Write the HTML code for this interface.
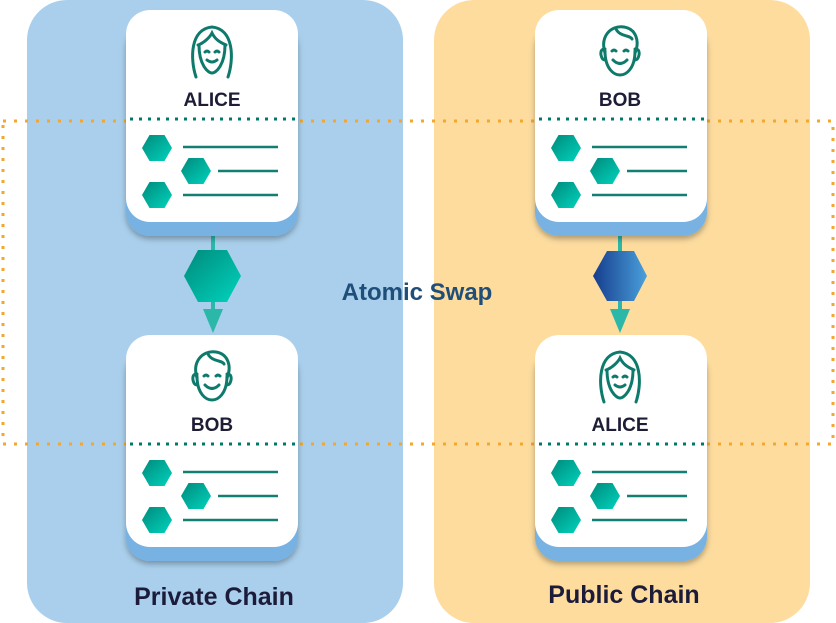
<!DOCTYPE html>
<html><head><meta charset="utf-8"><style>
body{margin:0;width:836px;height:623px;background:#fff;position:relative;overflow:hidden;font-family:"Liberation Sans",sans-serif}
</style></head><body>
<svg width="836" height="623" viewBox="0 0 836 623" xmlns="http://www.w3.org/2000/svg" style="position:absolute;left:0;top:0">
<defs>
<linearGradient id="tg" x1="0" y1="0" x2="1" y2="1"><stop offset="0" stop-color="#00897b"/><stop offset="1" stop-color="#00d4bd"/></linearGradient>
<linearGradient id="bg" x1="0" y1="0" x2="1" y2="0"><stop offset="0" stop-color="#163d8c"/><stop offset="1" stop-color="#4aa0dc"/></linearGradient>
<filter id="sh" x="-20%" y="-20%" width="140%" height="140%"><feDropShadow dx="0" dy="3" stdDeviation="3" flood-color="#000" flood-opacity="0.3"/></filter>
<g id="hs"><polygon points="-15,0 -7.5,-13 7.5,-13 15,0 7.5,13 -7.5,13" fill="url(#tg)"/></g>
<g id="card">
<rect x="0" y="12" width="172" height="214" rx="24" fill="#78b2e2" filter="url(#sh)"/>
<rect x="0" y="0" width="172" height="212" rx="24" fill="#fff"/>
<line x1="4" y1="109" x2="170" y2="109" stroke="#00796b" stroke-width="3" stroke-dasharray="3,6"/>
<use href="#hs" x="31" y="138"/><use href="#hs" x="70" y="161"/><use href="#hs" x="31" y="185"/>
<line x1="57" y1="137" x2="152" y2="137" stroke="#137f72" stroke-width="2.5"/>
<line x1="92" y1="161" x2="152" y2="161" stroke="#137f72" stroke-width="2.5"/>
<line x1="57" y1="185" x2="152" y2="185" stroke="#137f72" stroke-width="2.5"/>
</g>
<g id="girl" fill="none" stroke="#0e7a6c" stroke-width="3" stroke-linecap="round">
<path d="M-16,28 C-22,10 -22,-20 0,-22 C22,-20 22,10 16,28"/>
<path d="M-13,-4 C-13,16 -4,24 0,24 C4,24 13,16 13,-4"/>
<path d="M-14,-4 C-8,-6 -2,-12 0,-16 C4,-8 10,-6 14,-4"/>
<path d="M-7,3 q2,-2 4,0 M3,3 q2,-2 4,0 M-5,11 q5,4 10,0"/>
</g>
<g id="boy" fill="none" stroke="#0e7a6c" stroke-width="3" stroke-linecap="round">
<path d="M-15,2 C-15,20 -6,26 0,26 C6,26 15,20 15,2"/>
<path d="M-15,4 C-20,-12 -10,-24 4,-22 C16,-20 20,-8 15,4 M-4,-20 C0,-12 10,-14 12,-10"/>
<path d="M-15,0 q-5,0 -4,6 q1,5 4,5 M15,0 q5,0 4,6 q-1,5 -4,5"/>
<path d="M-8,2 q2,-2 4,0 M4,2 q2,-2 4,0 M-7,11 q7,7 14,0"/>
</g>
</defs>
<rect x="27" y="0" width="376" height="623" rx="40" fill="#a9cfec"/>
<rect x="434" y="0" width="376" height="623" rx="40" fill="#fddc9e"/>
<rect x="3" y="121" width="830" height="323" fill="none" stroke="#f3a72c" stroke-width="3" stroke-dasharray="3,8"/>
<line x1="213" y1="230" x2="213" y2="312" stroke="#2bb8a8" stroke-width="4"/>
<polygon points="203,309 223,309 213,333" fill="#2bb8a8"/>
<polygon points="184,276 198,250 227,250 241,276 227,302 198,302" fill="url(#tg)"/>
<line x1="620" y1="230" x2="620" y2="312" stroke="#2bb8a8" stroke-width="4"/>
<polygon points="610,309 630,309 620,333" fill="#2bb8a8"/>
<polygon points="593,276 607,251 634,251 647,276 634,301 607,301" fill="url(#bg)"/>
<use href="#card" x="126" y="10"/>
<use href="#card" x="126" y="335"/>
<use href="#card" x="535" y="10"/>
<use href="#card" x="535" y="335"/>
<use href="#girl" x="212" y="49"/>
<use href="#boy" x="620" y="49"/>
<use href="#boy" x="212" y="374"/>
<use href="#girl" x="620" y="374"/>
<g font-family="Liberation Sans, sans-serif" font-weight="bold" text-anchor="middle">
<text x="212" y="106" font-size="19" fill="#1e1d36">ALICE</text>
<text x="620" y="106" font-size="19" fill="#1e1d36">BOB</text>
<text x="212" y="431" font-size="19" fill="#1e1d36">BOB</text>
<text x="620" y="431" font-size="19" fill="#1e1d36">ALICE</text>
<text x="417" y="300" font-size="24" fill="#1f4e79">Atomic Swap</text>
<text x="214" y="605" font-size="25" fill="#1c1c3a">Private Chain</text>
<text x="624" y="603" font-size="25" fill="#1c1c3a">Public Chain</text>
</g>
</svg>
</body></html>
